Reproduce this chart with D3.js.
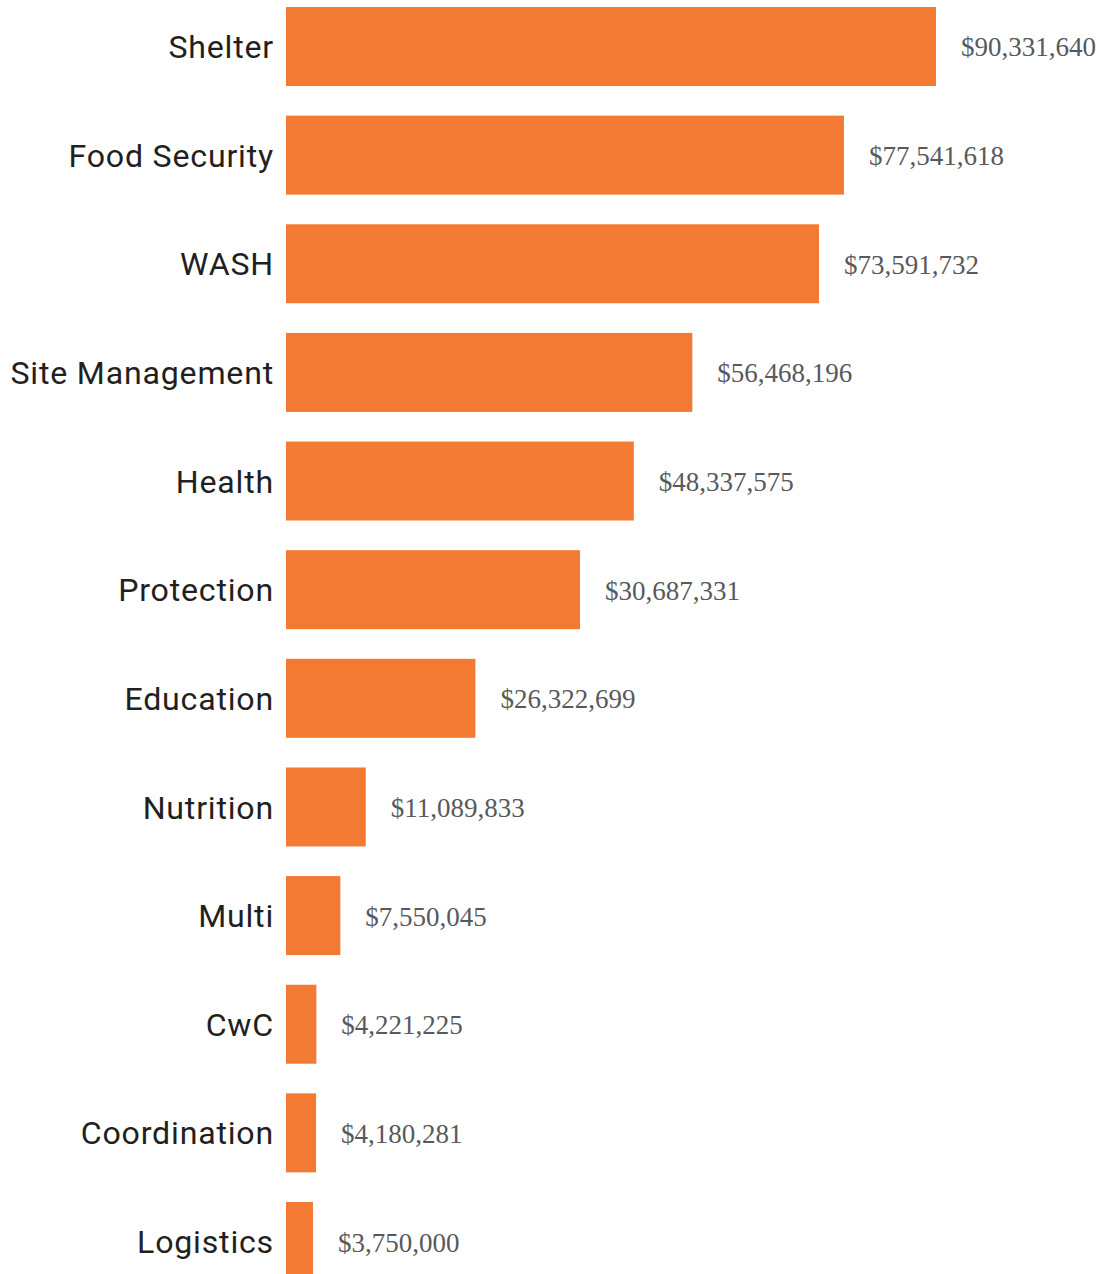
<!DOCTYPE html>
<html><head><meta charset="utf-8">
<script src="https://cdn.jsdelivr.net/npm/d3@7"></script>
<style>
html,body{margin:0;padding:0;background:#fff;overflow:hidden;}
</style></head>
<body>
<svg id="chart" width="1105" height="1274"></svg>
<script>
const categories = ["Shelter","Food Security","WASH","Site Management","Health","Protection","Education","Nutrition","Multi","CwC","Coordination","Logistics"];
// amounts printed beside the bars
const labelValues = [90331640,77541618,73591732,56468196,48337575,30687331,26322699,11089833,7550045,4221225,4180281,3750000];
// bar lengths as drawn in the picture (Protection and WASH bars are drawn longer than their labels)
const barValues = [90331640,77541618,74070000,56468196,48337575,40860000,26322699,11089833,7550045,4221225,4180281,3750000];

const data = categories.map((c,i)=>({c, v: barValues[i], lab: labelValues[i]}));
const svg = d3.select("#chart");
const x = d3.scaleLinear().domain([0, 90331640]).range([286, 936]);
const y = d3.scaleBand().domain(categories).range([7, 1281]).paddingInner(0.273).paddingOuter(0);
const fmt = d3.format("$,");

svg.selectAll("rect.bar").data(data).join("rect")
  .attr("class","bar")
  .attr("x", x(0))
  .attr("y", d=>y(d.c))
  .attr("width", d=>x(d.v)-x(0))
  .attr("height", y.bandwidth())
  .attr("fill", "#f37a33");

const cats = svg.selectAll("text.cat").data(data).join("text")
  .attr("class","cat")
  .attr("x", 274)
  .attr("y", d=>y(d.c)+y.bandwidth()/2)
  .attr("dy", "0.36em")
  .attr("text-anchor","end")
  .attr("font-family","Roboto, 'Noto Sans', sans-serif")
  .attr("font-weight", 400)
  .attr("font-size", 34)
  .attr("letter-spacing", 0.8)
  .attr("fill","#231f20")
  .text(d=>d.c);

// fit widest label to the reference width
const widest = d3.max(cats.nodes(), n=>n.getComputedTextLength());
const fs = 34 * 263 / widest;
cats.attr("font-size", fs.toFixed(2));

svg.selectAll("text.val").data(data).join("text")
  .attr("class","val")
  .attr("x", d=>x(d.v)+25)
  .attr("y", d=>y(d.c)+y.bandwidth()/2)
  .attr("dy", "0.37em")
  .attr("font-family","'Liberation Serif', serif")
  .attr("font-size", 27)
  .attr("fill","#58595b")
  .text(d=>fmt(d.lab));
</script>
</body></html>
